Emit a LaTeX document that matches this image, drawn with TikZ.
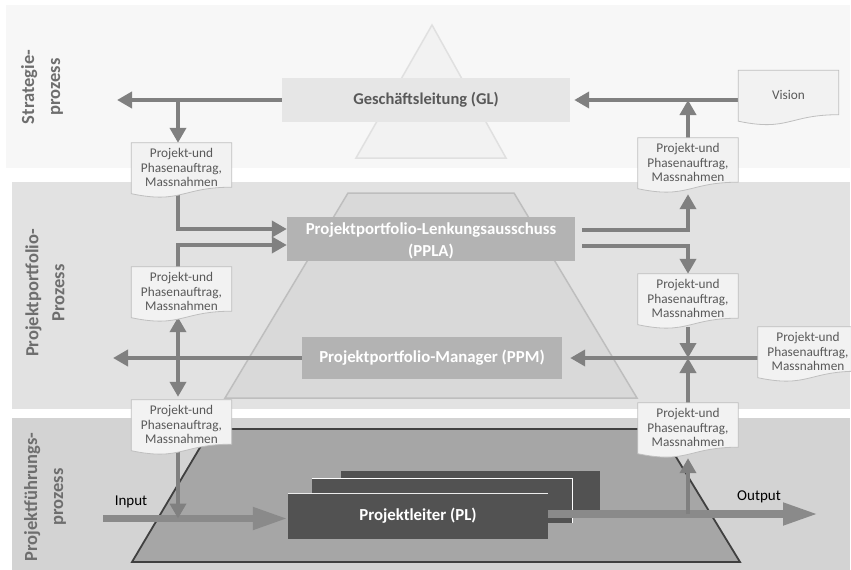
\documentclass[tikz,border=0pt]{standalone}
\usepackage{fontspec}
\setmainfont{Carlito}
\usetikzlibrary{arrows.meta,calc}

\definecolor{bandA}{HTML}{F7F7F7}
\definecolor{bandB}{HTML}{E2E2E2}
\definecolor{bandC}{HTML}{D3D3D3}
\definecolor{triFill}{HTML}{F2F2F2}
\definecolor{triLine}{HTML}{E0E0E0}
\definecolor{trapB}{HTML}{D9D9D9}
\definecolor{trapBline}{HTML}{BEBEBE}
\definecolor{trapC}{HTML}{A6A6A6}
\definecolor{trapCline}{HTML}{404040}
\definecolor{glFill}{HTML}{E6E6E6}
\definecolor{midBox}{HTML}{B3B3B3}
\definecolor{plBox}{HTML}{525252}
\definecolor{arrowGray}{HTML}{808080}
\definecolor{flowGray}{HTML}{8A8A8A}
\definecolor{docFill}{HTML}{F2F2F2}
\definecolor{docLine}{HTML}{BFBFBF}
\definecolor{textGray}{HTML}{595959}
\definecolor{labelGray}{HTML}{6E6E6E}

\pgfdeclarelayer{sheets}
\pgfsetlayers{main,sheets}

\tikzset{
  bandlabel/.style={rotate=90, align=center, text=labelGray,
    font=\fontsize{18.5}{26}\selectfont\bfseries},
  glbox/.style={fill=glFill, minimum width=288pt, minimum height=44pt,
    inner sep=0pt, text=textGray, font=\fontsize{16.5}{20}\selectfont\bfseries},
  graybox/.style={fill=midBox, inner sep=0pt, text=white, align=center,
    font=\fontsize{16.8}{21.5}\selectfont\bfseries},
  plbox/.style={fill=plBox, inner sep=0pt, text=white,
    font=\fontsize{16.8}{20}\selectfont\bfseries},
  sheetbox/.style={minimum width=100pt, minimum height=44pt, inner sep=0pt},
  sheetpath/.style={fill=docFill, draw=docLine, line width=0.8pt},
  sheettext/.style={align=center, inner sep=0pt, text=textGray,
    font=\fontsize{13.3}{14.8}\selectfont},
  flow/.style={draw=arrowGray, line width=3.8pt,
    -{Triangle[length=15pt,width=16pt]}},
  flowline/.style={draw=arrowGray, line width=3.8pt},
  bigflow/.style={draw=flowGray, line width=7.5pt,
    -{Triangle[length=35pt,width=21pt]}},
  flowlabel/.style={inner sep=0pt, font=\fontsize{15}{18}\selectfont},
}

% document sheet with a wavy lower edge: #1 name, #2 centre, #3 text
\newcommand\sheet[3]{%
  \begin{pgfonlayer}{sheets}
    \node[sheetbox] (#1) at (#2) {};
    \path[sheetpath] (#1.north west) -- (#1.north east) -- (#1.south east)
      .. controls (#1.south) and ([yshift=-17pt]#1.south)
      .. ([yshift=-6.5pt]#1.south west) -- cycle;
    \node[sheettext] (#1-t) at ([yshift=-2.5pt]#1.center) {#3};
  \end{pgfonlayer}
  \coordinate (#1-b) at ([yshift=-9pt]#1.south);
}

\begin{document}
\begin{tikzpicture}[x=1pt, y=-1pt]
\useasboundingbox (0,0) rectangle (851,570);

% process bands
\fill[bandA] (6,5) rectangle (850,168);
\fill[bandB] (12,182) rectangle (850,409);
\fill[bandC] (12,418) rectangle (850,570);

% hierarchy shapes
\filldraw[fill=triFill, draw=triLine, line width=1.5pt]
  (356,158) -- (432,25) -- (506,158) -- cycle;
\filldraw[fill=trapB, draw=trapBline, line width=1.5pt]
  (348,193) -- (514,193) -- (637,398) -- (225,398) -- cycle;
\filldraw[fill=trapC, draw=trapCline, line width=1.8pt]
  (211,429) -- (659,429) -- (740,562) -- (132,562) -- cycle;

% band titles
\node[bandlabel] (lblS) at (42,87) {Strategie-\\prozess};
\node[bandlabel] (lblP) at (45,293) {Projektportfolio-\\Prozess};
\node[bandlabel] (lblF) at (45,497) {Projektführungs-\\prozess};

% organisational units
\node[glbox] (GL) at (426,100) {Geschäftsleitung (GL)};
\node[graybox, minimum width=288pt, minimum height=44pt] (PPLA) at (431,239) {};
\node[graybox] (PPLA-t) at ([yshift=-2pt]PPLA.center)
  {Projektportfolio-Lenkungsausschuss\\(PPLA)};
\node[graybox, minimum width=260pt, minimum height=42pt] (PPM) at (432,358)
  {Projektportfolio-Manager (PPM)};

% stacked project leader boxes
\node[plbox, minimum width=259pt, minimum height=39pt] (PLback) at (470.5,490.5) {};
\node[plbox, minimum width=260pt, minimum height=44pt] (PLmid) at (442,501) {};
\draw[white, line width=0.8pt] (PLmid.north west) -- (PLmid.north east) -- (PLmid.south east);
\node[plbox, minimum width=260pt, minimum height=45pt] (PL) at (418,516) {Projektleiter (PL)};
\draw[white!85!gray, line width=0.8pt] (PL.north west) -- (PL.north east);

% documents
\sheet{vis}{788.5,92.5}{Vision}
\sheet{docA}{181.5,165}{Projekt-und\\Phasenauftrag,\\Massnahmen}
\sheet{docB}{688,160}{Projekt-und\\Phasenauftrag,\\Massnahmen}
\sheet{docC}{181.5,289}{Projekt-und\\Phasenauftrag,\\Massnahmen}
\sheet{docD}{688,296}{Projekt-und\\Phasenauftrag,\\Massnahmen}
\sheet{docE}{808,349}{Projekt-und\\Phasenauftrag,\\Massnahmen}
\sheet{docF}{181.5,422}{Projekt-und\\Phasenauftrag,\\Massnahmen}
\sheet{docG}{688,425}{Projekt-und\\Phasenauftrag,\\Massnahmen}

% guide coordinates
\coordinate (lx) at (178,0);
\coordinate (outS) at (117,100);
\coordinate (outP) at (113,358);
\coordinate (inS) at (103,518.5);
\coordinate (outE) at (818,514);
\coordinate (jR) at (688,358);

% strategy level
\draw[flow] (GL.west) -- (outS);
\draw[flow] (GL.west -| lx) -- (docA.north -| lx);
\draw[flow, shorten >=4pt] (GL.east -| vis.west) -- (GL.east);
\draw[flow] (docB.north) -- (docB.north |- GL.east);

% portfolio level, left side
\draw[flow] (docA.south -| lx) |- ([yshift=10pt]PPLA.west);
\draw[flow] (docC.north -| lx) |- ([yshift=-6pt]PPLA.west);
\draw[flow] (PPM.west) -- (outP);
\draw[flowline, {Triangle[length=15pt,width=16pt]}-{Triangle[length=15pt,width=16pt]},
  shorten <=-3pt, shorten >=3pt] (docC-b -| lx) -- (docF.north -| lx);

% portfolio level, right side
\draw[flow, shorten >=3pt] ([xshift=7pt,yshift=9pt]PPLA.east) -| (docB-b);
\draw[flow] ([xshift=7pt,yshift=-7pt]PPLA.east) -| (docD.north);
\draw[flow, shorten >=8pt] (PPM.east -| docE.west) -- (PPM.east);
\draw[flow] (docD-b) -- (jR);
\draw[flow] (docG.north) -- (jR);

% project level
\draw[bigflow] (inS) -- ([yshift=-2.5pt]PL.west);
\draw[bigflow] ([yshift=2pt]PL.east) -- (outE);
\draw[flow] (docF.south -| lx) -- (lx |- inS);
\draw[flow, shorten >=2pt] (jR |- outE) -- (docG-b);

\node[flowlabel] (inL) at (131,502) {Input};
\node[flowlabel] (outL) at (759,497) {Output};
\end{tikzpicture}
\end{document}
